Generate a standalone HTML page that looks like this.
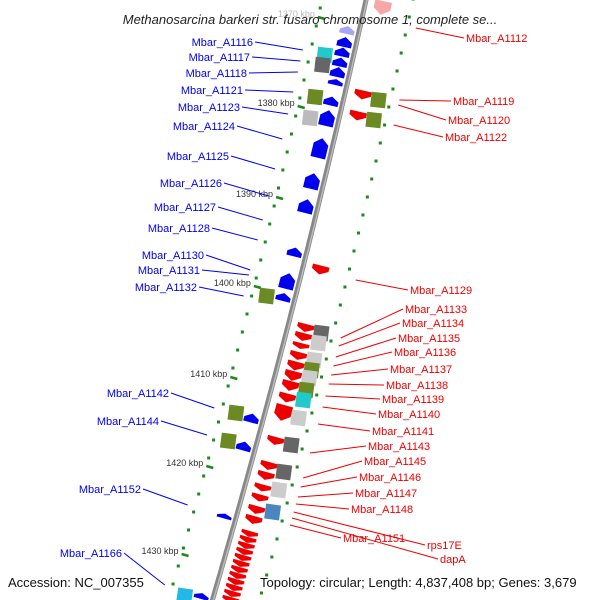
<!DOCTYPE html>
<html><head><meta charset="utf-8"><style>
body{margin:0;background:#fff}
svg{display:block;font-family:"Liberation Sans","DejaVu Sans",sans-serif}
</style></head><body>
<svg id="map" width="600" height="600" viewBox="0 0 600 600">
<g id="bg"></g>
<text x="310" y="24" text-anchor="middle" font-size="13" font-style="italic" fill="#222">Methanosarcina barkeri str. fusaro chromosome 1, complete se...</text>
<text x="8" y="587" font-size="13" fill="#111">Accession: NC_007355</text>
<text x="260" y="587" font-size="13" fill="#111">Topology: circular; Length: 4,837,408 bp; Genes: 3,679</text>
</svg>
<script>
// Data arrays
const kbpTicks = [1370,1380,1390,1400,1410,1420,1430];
const kbpTickY = [14,103,194,283,374,463,551];
const fwdGeneY = [30,42,52,62,72,82,101,118,148,181,206,252,281,297,418,446,516,596];
const fwdGeneLen = [8,10,9,9,10,6,9,16,20,16,14,9,16,8,9,9,5,6];
const revGeneY = [8,95,116,270,328,337,346,356,366,376,386,398,413,441,466,476,488,498,510,520];
const revGeneLen = [14,9,9,9,8,8,6,8,9,10,10,9,16,8,8,8,7,7,8,8];
const revSmallStart = 534, revSmallCount = 12;
const fwdLabels = ["Mbar_A1116","Mbar_A1117","Mbar_A1118","Mbar_A1121","Mbar_A1123","Mbar_A1124","Mbar_A1125","Mbar_A1126","Mbar_A1127","Mbar_A1128","Mbar_A1130","Mbar_A1131","Mbar_A1132","Mbar_A1142","Mbar_A1144","Mbar_A1152","Mbar_A1166"];
const fwdLabelY = [42,57,73,90,107,126,156,183,207,228,255,270,287,393,421,489,553];
const fwdTargetY = [50,61,72,92,114,139,169,196,220,240,270,275,296,408,435,505,585];
const revLabels = ["Mbar_A1112","Mbar_A1119","Mbar_A1120","Mbar_A1122","Mbar_A1129","Mbar_A1133","Mbar_A1134","Mbar_A1135","Mbar_A1136","Mbar_A1137","Mbar_A1138","Mbar_A1139","Mbar_A1140","Mbar_A1141","Mbar_A1143","Mbar_A1145","Mbar_A1146","Mbar_A1147","Mbar_A1148","Mbar_A1151","rps17E","dapA"];
const revLabelY = [38,101,120,137,290,309,323,338,352,369,385,399,414,431,446,461,477,493,509,538,545,559];
const revTargetY = [28,100,105,125,280,338,346,357,366,375,384,396,407,424,453,478,487,497,504,525,512,518];
const boxY = [55,65,97,118,296,413,441, 100,120,333,343,360,370,378,390,400,418,445,472,490,512,596];
const boxSide = [-1,-1,-1,-1,-1,-1,-1, 1,1,1,1,1,1,1,1,1,1,1,1,1,1,-1];
const boxColor = ["#22c8cc","#666","#6b8a23","#bbb","#6b8a23","#6b8a23","#6b8a23", "#6b8a23","#6b8a23","#666","#ccc","#ccc","#6b8a23","#ccc","#6b8a23","#22c8cc","#ccc","#666","#666","#ccc","#4a86c0","#22b8e8"];

// layout (not data)
const fwdLabelRight = [253,250,247,243,240,235,229,222,216,210,204,200,197,169,159,141,122];
const revLabelX = [466,453,448,445,410,405,402,398,394,390,386,382,378,372,368,364,359,355,351,343,427,440];

const NS="http://www.w3.org/2000/svg";
const svg=document.getElementById('map');
const bg=document.getElementById('bg');
function bx(y){return 366-0.22*y-0.00006*y*y;}
function ang(y){return Math.atan(0.22+0.00012*y);}
function mk(t,a,p){const e=document.createElementNS(NS,t);for(const k in a)e.setAttribute(k,a[k]);(p||bg).appendChild(e);return e;}
function trackX(y,off){return bx(y)+off;}

for(let y=-10;y<610;y+=18){
  const l=mk('rect',{x:trackX(y,-44)-1.5,y:y-1.5,width:3,height:3,fill:'#1a8a1a'});
  
  
  const r=mk('rect',{x:trackX(y+9,47)-1.5,y:y+9-1.5,width:3,height:3,fill:'#1a8a1a'});
  
  
}
let d='';for(let y=-5;y<=605;y+=5)d+=(y<0?'M':'L')+bx(y).toFixed(1)+' '+y+' ';
const bb=mk('path',{d:d,stroke:'#888',"stroke-width":5,fill:'none'});


mk('path',{d:d,stroke:'#bbb',"stroke-width":1.5,fill:'none',transform:'translate(1,0)'});

kbpTicks.forEach((k,i)=>{
  const y=kbpTickY[i];const x=trackX(y,-44);
  const t=mk('text',{x:x-4,y:y+3,"font-size":9,fill:'#333',"text-anchor":'end',opacity:i==0?0.35:1});
  t.textContent=k+' kbp';
  
  
  const dsh=mk('line',{x1:x-1,y1:y+3,x2:x+6,y2:y+5,stroke:'#1a8a1a',"stroke-width":2.5});
  
  
});

function arrow(y,len,dir,color,w,op){
  const a=ang(y)*180/Math.PI;
  const x=bx(y)+(dir>0?-12:18);
  const h=len, hw=w/2, tip=Math.min(6,h*0.5);
  let pts = dir>0 ? `${-hw},${h/2} ${hw},${h/2} ${hw},${-h/2+tip} 0,${-h/2} ${-hw},${-h/2+tip}`
                  : `${-hw},${-h/2} ${hw},${-h/2} ${hw},${h/2-tip} 0,${h/2} ${-hw},${h/2-tip}`;
  return mk('polygon',{points:pts,fill:color,opacity:op,transform:`translate(${x.toFixed(1)},${y}) rotate(${a.toFixed(1)})`});
}
fwdGeneY.forEach((y,i)=>{
  const p=arrow(y,fwdGeneLen[i],1,'#0000ee',15,i==0?0.35:1);
  
  
});
revGeneY.forEach((y,i)=>{
  const p=arrow(y,revGeneLen[i],-1,'#ee0000',17,i==0?0.35:1);
  
  
});
for(let i=0;i<revSmallCount;i++){
  const p=arrow(revSmallStart+i*6,6,-1,'#ee0000',17,1);
  
  
}
boxY.forEach((y,i)=>{
  const a=ang(y)*180/Math.PI;
  const x=bx(y)+boxSide[i]*(boxSide[i]<0?29:35);
  const g=mk('rect',{x:-7.5,y:-7.5,width:15,height:15,fill:boxColor[i],transform:`translate(${x.toFixed(1)},${y}) rotate(${(a*0.5).toFixed(1)})`});
  
  
});

fwdLabels.forEach((s,i)=>{
  const y=fwdLabelY[i];
  const xr=fwdLabelRight[i];
  const t=mk('text',{x:xr,y:y+4,"font-size":11,fill:'#0000ee',"text-anchor":'end'},svg);
  t.textContent=s;
  
  
  const ty=fwdTargetY[i];
  const l=mk('line',{x1:xr+2,y1:y,x2:bx(ty)-52,y2:ty,stroke:'#0000ee',"stroke-width":1},svg);
  
  
});
revLabels.forEach((s,i)=>{
  const y=revLabelY[i];
  const t=mk('text',{x:revLabelX[i],y:y+4,"font-size":11,fill:'#ee0000'},svg);
  t.textContent=s;
  
  
  const ty=revTargetY[i];
  const l=mk('line',{x1:revLabelX[i]-2,y1:y,x2:bx(ty)+56,y2:ty,stroke:'#ee0000',"stroke-width":1},svg);
  
  
});
</script>
</body></html>
